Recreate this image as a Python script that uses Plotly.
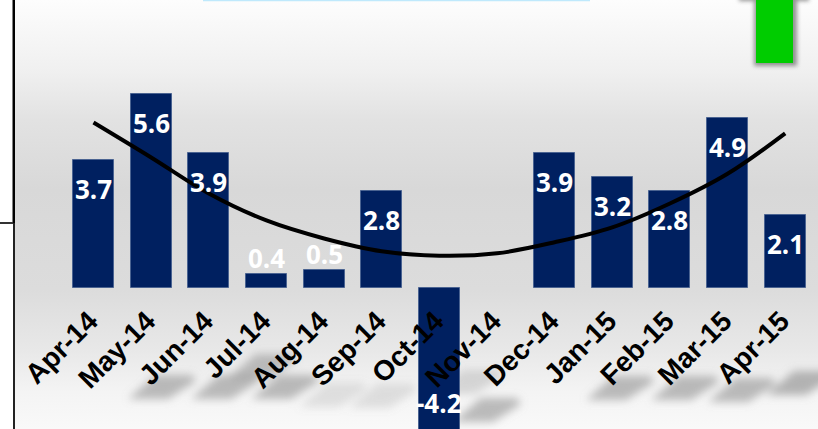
from urllib.parse import quote
import plotly.graph_objects as go

WIDTH, HEIGHT = 818, 429

months = ["Apr-14", "May-14", "Jun-14", "Jul-14", "Aug-14", "Sep-14", "Oct-14",
          "Nov-14", "Dec-14", "Jan-15", "Feb-15", "Mar-15", "Apr-15"]
growth = [3.7, 5.6, 3.9, 0.4, 0.5, 2.8, -4.2, None, 3.9, 3.2, 2.8, 4.9, 2.1]
trend = [4.77, 3.76, 2.72, 1.94, 1.42, 1.05, 0.92, 0.99, 1.31, 1.74, 2.43, 3.29, 4.46]

# Pixel geometry of the value and category scales
X_FIRST, X_STEP = 93.5, 57.64
Y_ZERO, Y_UNIT = 287.6, 34.6
positions = list(range(len(months)))
x_range = [(0 - X_FIRST) / X_STEP, (WIDTH - X_FIRST) / X_STEP]
y_range = [(Y_ZERO - HEIGHT) / Y_UNIT, Y_ZERO / Y_UNIT]


def py(px):
    return 1 - px / HEIGHT


def px(x):
    return x / WIDTH


# Backdrop: vertical grey band, soft label shadows and the arrow's shadow
band = [(0, "#fdfdfd"), (70, "#f0f0f0"), (120, "#e2e2e2"), (190, "#d8d8d8"),
        (290, "#dcdcdc"), (350, "#e8e8e8"), (392, "#f4f4f4"), (429, "#f9f9f9")]
stops = "".join(f'<stop offset="{y / HEIGHT:.3f}" stop-color="{c}"/>' for y, c in band)
smears = [(162, 387, .55), (225, 387, .55), (262, 366, .5), (285, 387, .55),
          (333, 395, .2), (383, 396, .22), (469, 382, .28), (487, 410, .55),
          (620, 388, .55), (685, 388, .55), (742, 390, .55), (800, 383, .6)]
smear_paths = "".join(
    f'<path d="M{cx - 34} {cy + 12} L{cx + 6} {cy + 12} L{cx + 34} {cy - 6} '
    f'L{cx + 30} {cy - 12} L{cx - 6} {cy - 12} Z" fill="#888" opacity="{o}"/>'
    for cx, cy, o in smears
)
backdrop = (
    f'<svg xmlns="http://www.w3.org/2000/svg" width="{WIDTH}" height="{HEIGHT}">'
    f'<defs><linearGradient id="g" x1="0" y1="0" x2="0" y2="1">{stops}</linearGradient>'
    '<filter id="b" x="-30%" y="-60%" width="160%" height="220%">'
    '<feGaussianBlur stdDeviation="4"/></filter>'
    '<filter id="c" x="-40%" y="-40%" width="180%" height="180%">'
    '<feGaussianBlur stdDeviation="2"/></filter></defs>'
    f'<rect width="{WIDTH}" height="{HEIGHT}" fill="#fff"/>'
    f'<rect x="15" width="{WIDTH - 15}" height="{HEIGHT}" fill="url(#g)"/>'
    f'<g filter="url(#b)">{smear_paths}</g>'
    '<g filter="url(#c)" fill="#555" opacity=".62">'
    '<rect x="754" y="-20" width="43" height="86"/>'
    '<rect x="739" y="-20" width="70" height="21"/></g>'
    '</svg>'
)

fig = go.Figure()
fig.add_bar(
    x=positions, y=growth, width=0.712,
    marker=dict(color="#002060", line=dict(color="#4a6391", width=1)),
    hoverinfo="skip",
)
fig.add_scatter(
    x=positions, y=trend, mode="lines",
    line=dict(color="#000000", width=4, shape="spline", smoothing=1.0),
    hoverinfo="skip",
)

# Value labels sit inside the bars, except on the two very short ones.
# The negative bar runs off the bottom edge, so its label is placed along the bar.
annotations = []
for pos, value in zip(positions, growth):
    if value is None:
        continue
    label_y, shift = value, -29
    if value < 0:
        label_y, shift = value * 0.8, 1
    elif value < 1:
        shift = 16
    annotations.append(dict(
        x=pos, y=label_y, xref="x", yref="y", yshift=shift,
        text=f"{value}", showarrow=False,
        font=dict(family="Open Sans", size=26, color="#ffffff", weight=700),
    ))

shapes = [
    # left rule, thicker above the tick
    dict(type="rect", xref="paper", yref="paper", x0=px(12.5), x1=px(15),
         y0=py(0), y1=py(223), fillcolor="#000000", line_width=0),
    dict(type="rect", xref="paper", yref="paper", x0=px(13), x1=px(15),
         y0=py(223), y1=py(429), fillcolor="#222222", line_width=0),
    dict(type="rect", xref="paper", yref="paper", x0=px(0), x1=px(13),
         y0=py(222), y1=py(224), fillcolor="#333333", line_width=0),
    # pale strip along the top edge
    dict(type="rect", xref="paper", yref="paper", x0=px(203), x1=px(590),
         y0=py(0), y1=py(1.2), fillcolor="#bfe9fc", line_width=0),
    # green arrow shaft
    dict(type="rect", xref="paper", yref="paper", x0=px(756), x1=px(793),
         y0=py(0), y1=py(63), fillcolor="#00cc00", line_width=0),
]

fig.update_layout(
    width=WIDTH, height=HEIGHT,
    margin=dict(l=0, r=0, t=0, b=0, pad=0),
    paper_bgcolor="#ffffff", plot_bgcolor="rgba(0,0,0,0)",
    showlegend=False, bargap=0,
    annotations=annotations, shapes=shapes,
    images=[dict(
        source="data:image/svg+xml," + quote(backdrop),
        xref="paper", yref="paper", x=0, y=1, sizex=1, sizey=1,
        xanchor="left", yanchor="top", sizing="stretch", layer="below",
    )],
    xaxis=dict(
        domain=[0, 1], range=x_range, tickmode="array",
        tickvals=positions, ticktext=months, tickangle=-45,
        tickfont=dict(family="Liberation Sans", size=28, color="#000000", weight=700),
        ticklabelshift=-4,
        showgrid=False, zeroline=False, showline=False, ticks="",
        anchor="free", position=py(298),
    ),
    yaxis=dict(domain=[0, 1], range=y_range, visible=False),
)

fig.write_html("out.html", config={"displayModeBar": False})
